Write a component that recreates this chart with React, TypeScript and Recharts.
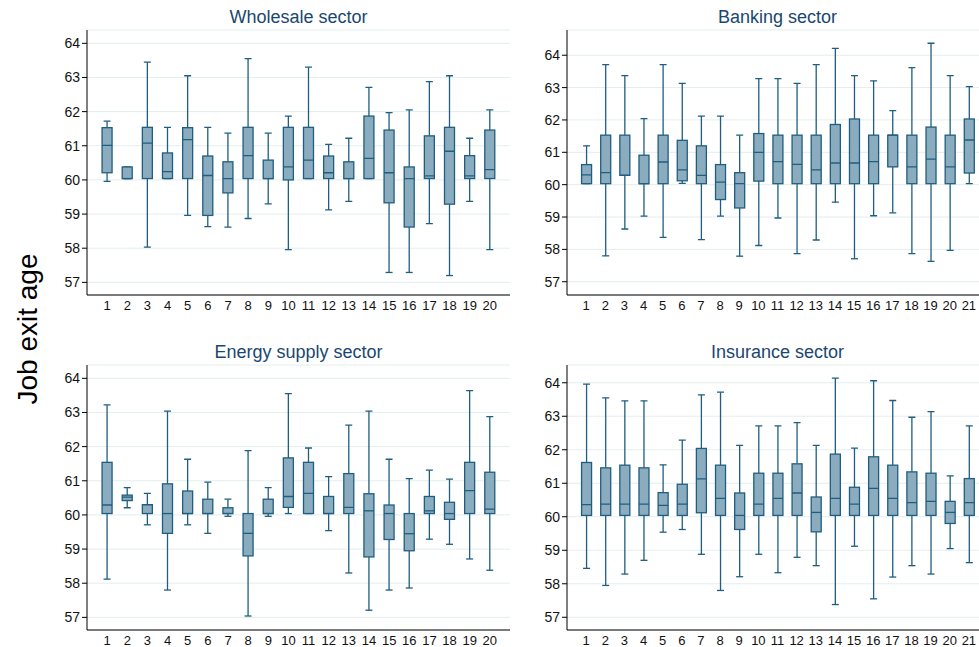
import { ComposedChart, Bar, XAxis, YAxis, CartesianGrid } from "recharts";

// each row: [lower whisker, q1, median, q3, upper whisker]
const wholesale = [
  [59.96, 60.21, 61.01, 61.53, 61.72],
  [60.04, 60.04, 60.04, 60.38, 60.38],
  [58.03, 60.04, 61.08, 61.54, 63.45],
  [60.04, 60.04, 60.24, 60.79, 61.54],
  [58.96, 60.04, 61.18, 61.53, 63.05],
  [58.63, 58.96, 60.13, 60.7, 61.54],
  [58.62, 59.62, 60.04, 60.53, 61.37],
  [58.87, 60.04, 60.71, 61.54, 63.55],
  [59.3, 60.04, 60.04, 60.58, 61.37],
  [57.96, 60.0, 60.38, 61.54, 61.87],
  [60.04, 60.04, 60.58, 61.54, 63.3],
  [59.12, 60.04, 60.21, 60.7, 61.04],
  [59.37, 60.04, 60.04, 60.53, 61.22],
  [60.04, 60.04, 60.63, 61.87, 62.71],
  [57.29, 59.33, 60.21, 61.46, 61.97],
  [57.29, 58.62, 60.04, 60.38, 62.05],
  [58.72, 60.04, 60.12, 61.29, 62.88],
  [57.2, 59.29, 60.84, 61.54, 63.05],
  [59.37, 60.04, 60.12, 60.71, 61.22],
  [57.96, 60.04, 60.3, 61.46, 62.05],
];

const banking = [
  [60.03, 60.03, 60.3, 60.62, 61.2],
  [57.8, 60.03, 60.37, 61.53, 63.71],
  [58.63, 60.29, 60.29, 61.53, 63.37],
  [59.03, 60.03, 60.03, 60.91, 62.04],
  [58.37, 60.03, 60.7, 61.53, 63.71],
  [60.04, 60.12, 60.46, 61.37, 63.13],
  [58.3, 60.03, 60.29, 61.2, 62.12],
  [59.03, 59.54, 60.08, 60.62, 62.12],
  [57.79, 59.28, 60.03, 60.37, 61.53],
  [58.12, 60.11, 61.0, 61.58, 63.28],
  [58.97, 60.03, 60.71, 61.53, 63.28],
  [57.87, 60.03, 60.63, 61.53, 63.13],
  [58.29, 60.03, 60.46, 61.53, 63.71],
  [59.46, 60.03, 60.67, 61.86, 64.21],
  [57.71, 60.03, 60.67, 62.03, 63.37],
  [59.04, 60.03, 60.71, 61.53, 63.21],
  [59.13, 60.55, 61.53, 61.53, 62.29],
  [57.87, 60.03, 60.55, 61.53, 63.62],
  [57.63, 60.03, 60.79, 61.78, 64.37],
  [57.97, 60.03, 60.55, 61.53, 63.37],
  [60.03, 60.36, 61.38, 62.03, 63.03],
];

const energy = [
  [58.12, 60.04, 60.29, 61.54, 63.22],
  [60.21, 60.42, 60.52, 60.58, 60.8],
  [59.71, 60.04, 60.3, 60.3, 60.63],
  [57.8, 59.46, 60.04, 60.91, 63.04],
  [59.71, 60.04, 60.04, 60.7, 61.63],
  [59.46, 60.04, 60.04, 60.46, 60.96],
  [59.96, 60.04, 60.04, 60.21, 60.46],
  [57.04, 58.8, 59.46, 60.04, 61.88],
  [59.96, 60.04, 60.04, 60.46, 60.8],
  [60.04, 60.22, 60.54, 61.67, 63.55],
  [60.04, 60.04, 60.63, 61.54, 61.96],
  [59.54, 60.04, 60.04, 60.54, 61.12],
  [58.3, 60.04, 60.22, 61.21, 62.63],
  [57.21, 58.77, 60.12, 60.62, 63.04],
  [57.8, 59.28, 60.04, 60.29, 61.63],
  [57.86, 58.95, 59.45, 60.04, 61.06],
  [59.29, 60.04, 60.12, 60.54, 61.31],
  [59.14, 59.87, 60.04, 60.37, 61.05],
  [58.71, 60.04, 60.71, 61.54, 63.64],
  [58.38, 60.04, 60.17, 61.25, 62.88],
];

const insurance = [
  [58.46, 60.04, 60.36, 61.62, 63.96],
  [57.95, 60.04, 60.38, 61.46, 63.55],
  [58.29, 60.04, 60.38, 61.54, 63.46],
  [58.7, 60.04, 60.38, 61.46, 63.46],
  [59.54, 60.04, 60.34, 60.72, 61.55],
  [59.62, 60.04, 60.38, 60.97, 62.29],
  [58.88, 60.12, 61.13, 62.04, 63.64],
  [57.8, 60.04, 60.55, 61.54, 63.72],
  [58.21, 59.62, 60.04, 60.71, 62.13],
  [58.88, 60.04, 60.38, 61.3, 62.71],
  [58.33, 60.04, 60.55, 61.3, 62.71],
  [58.79, 60.04, 60.71, 61.58, 62.81],
  [58.54, 59.55, 60.13, 60.59, 62.13],
  [57.38, 60.04, 60.55, 61.87, 64.14],
  [59.12, 60.04, 60.38, 60.88, 62.05],
  [57.55, 60.04, 60.85, 61.79, 64.06],
  [58.2, 60.04, 60.55, 61.54, 63.47],
  [58.54, 60.04, 60.42, 61.34, 62.97],
  [58.29, 60.04, 60.46, 61.3, 63.14],
  [59.05, 59.8, 60.13, 60.46, 61.22],
  [58.63, 60.04, 60.42, 61.14, 62.71],
];

const yTicks = [57, 58, 59, 60, 61, 62, 63, 64];

const FILL = "#8aacbe";
const STROKE = "#1f5e80";
const FONT = "'Liberation Sans', Arial, sans-serif";

const toRows = (stats: number[][]) =>
  stats.map((s, i) => ({
    firm: i + 1,
    min: s[0],
    q1: s[1],
    med: s[2],
    q3: s[3],
    max: s[4],
  }));

function BoxShape(props: any) {
  const { x, y, width, height, payload } = props;
  const top = Math.min(y, y + height);
  const h = Math.abs(height);
  const { min, q1, med, q3, max } = payload;
  const span = max - min;
  const py = (v: number) => (span === 0 ? top : top + (h * (max - v)) / span);
  const cx = x + width / 2;
  const cap = 3.5;
  return (
    <g stroke={STROKE} strokeWidth={1.3}>
      <line x1={cx} x2={cx} y1={py(max)} y2={py(q3)} />
      <line x1={cx} x2={cx} y1={py(q1)} y2={py(min)} />
      <line x1={cx - cap} x2={cx + cap} y1={py(max)} y2={py(max)} />
      <line x1={cx - cap} x2={cx + cap} y1={py(min)} y2={py(min)} />
      <rect
        x={x}
        y={py(q3)}
        width={width}
        height={Math.max(py(q1) - py(q3), 0.5)}
        fill={FILL}
      />
      <line x1={x} x2={x + width} y1={py(med)} y2={py(med)} />
    </g>
  );
}

interface PanelProps {
  title: string;
  stats: number[][];
  left: number;
  top: number;
  yDomain: [number, number];
  xMax: number;
  marginRight: number;
}

function Panel({ title, stats, left, top, yDomain, xMax, marginRight }: PanelProps) {
  const rows = toRows(stats);
  const W = 520;
  const H = 320;
  const plotLeft = 87;
  const plotRight = W - marginRight;
  return (
    <div style={{ position: "absolute", left, top, width: W, height: H }}>
      <div
        style={{
          position: "absolute",
          left: plotLeft,
          width: plotRight - plotLeft,
          top: 6,
          textAlign: "center",
          fontSize: 18,
          lineHeight: "22px",
          color: "#1a476f",
          fontFamily: FONT,
        }}
      >
        {title}
      </div>
      <ComposedChart
        width={W}
        height={H}
        data={rows}
        margin={{ top: 30, right: marginRight, bottom: 0, left: 47 }}
      >
        <CartesianGrid horizontal vertical={false} stroke="#e3eeef" />
        <XAxis
          dataKey="firm"
          type="number"
          domain={[0, xMax]}
          ticks={rows.map((r) => r.firm)}
          interval={0}
          tickLine={false}
          tickSize={4}
          height={25}
          axisLine={{ stroke: "#000" }}
          tick={{ fill: "#111", fontSize: 13, fontFamily: FONT }}
        />
        <YAxis
          type="number"
          domain={yDomain}
          allowDataOverflow
          ticks={yTicks}
          interval={0}
          width={40}
          tickSize={5}
          tickLine={{ stroke: "#000" }}
          axisLine={{ stroke: "#000" }}
          tick={{ fill: "#111", fontSize: 14, fontFamily: FONT }}
        />
        <Bar
          dataKey={(d: any) => [d.min, d.max]}
          barSize={10}
          shape={BoxShape}
          isAnimationActive={false}
        />
      </ComposedChart>
    </div>
  );
}

export default function App() {
  return (
    <div
      style={{
        position: "fixed",
        left: 0,
        top: 0,
        width: 979,
        height: 647,
        overflow: "hidden",
        background: "#fff",
      }}
    >
      <Panel title="Wholesale sector" stats={wholesale} left={0} top={0} yDomain={[56.63, 64.39]} xMax={21} marginRight={10} />
      <Panel title="Banking sector" stats={banking} left={480} top={0} yDomain={[56.59, 64.78]} xMax={22} marginRight={12} />
      <Panel title="Energy supply sector" stats={energy} left={0} top={335} yDomain={[56.63, 64.39]} xMax={21} marginRight={10} />
      <Panel title="Insurance sector" stats={insurance} left={480} top={335} yDomain={[56.62, 64.53]} xMax={22} marginRight={12} />
      <div
        style={{
          position: "absolute",
          left: 28,
          top: 329,
          transform: "translate(-50%, -50%) rotate(-90deg)",
          whiteSpace: "nowrap",
          fontSize: 28,
          fontFamily: FONT,
          color: "#000",
        }}
      >
        Job exit age
      </div>
    </div>
  );
}
